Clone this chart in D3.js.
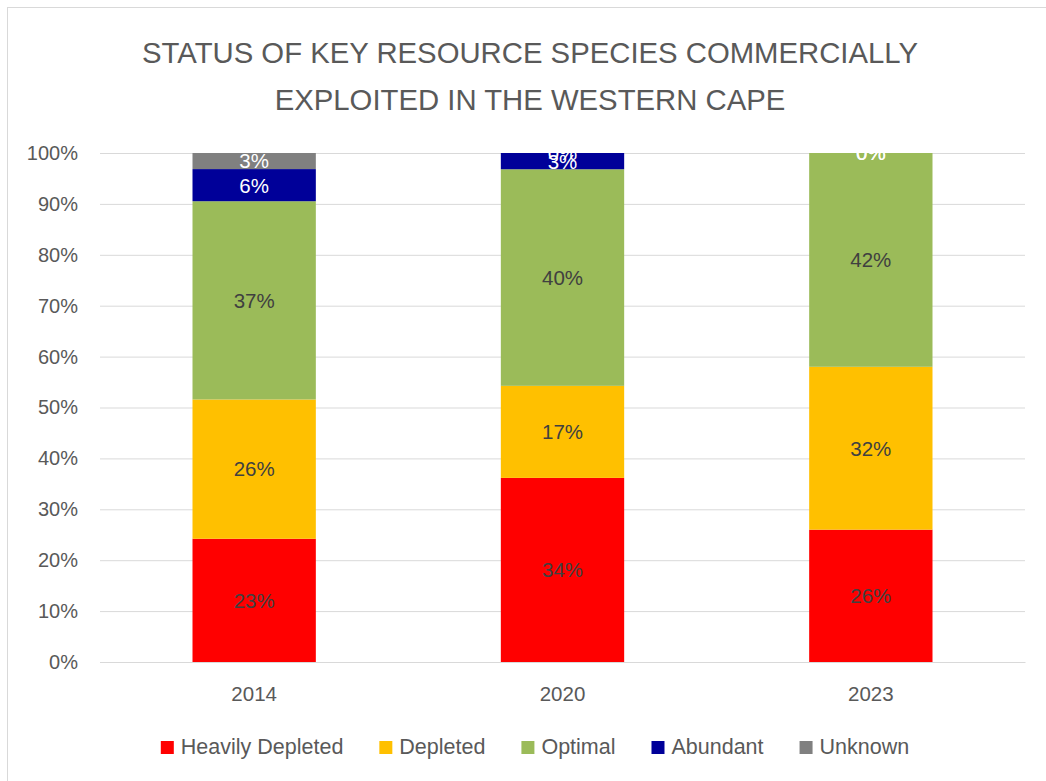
<!DOCTYPE html>
<html>
<head>
<meta charset="utf-8">
<script src="https://cdn.jsdelivr.net/npm/d3@7"></script>
<style>
  html, body { margin: 0; padding: 0; background: #fff; }
  svg { display: block; font-family: "Liberation Sans", Arial, sans-serif; }
</style>
</head>
<body>
<svg id="chart" width="1046" height="781"></svg>
<script>
// Survey years (categories)
const years = ["2014", "2020", "2023"];
// Stock status classes, bottom to top
const statuses = ["Heavily Depleted", "Depleted", "Optimal", "Abundant", "Unknown"];
// Share of species per status class (%), one value per year
const heavilyDepleted = [23, 34, 26];
const depleted = [26, 17, 32];
const optimal = [37, 40, 42];
const abundant = [6, 3, 0];
const unknown = [3, 0, 0];
// Value-axis tick labels
const yTicks = [0, 0.1, 0.2, 0.3, 0.4, 0.5, 0.6, 0.7, 0.8, 0.9, 1.0];

const colors = {
  "Heavily Depleted": "#FF0000",
  "Depleted": "#FFC000",
  "Optimal": "#9BBB59",
  "Abundant": "#000099",
  "Unknown": "#808080"
};
const labelColors = {
  "Heavily Depleted": "#404040",
  "Depleted": "#404040",
  "Optimal": "#404040",
  "Abundant": "#FFFFFF",
  "Unknown": "#FFFFFF"
};

const seriesValues = [heavilyDepleted, depleted, optimal, abundant, unknown];
const rows = years.map((y, i) => {
  const r = { year: y };
  statuses.forEach((s, k) => { r[s] = seriesValues[k][i]; });
  return r;
});

const svg = d3.select("#chart");
const W = 1046, H = 781;

// chart frame
svg.append("rect")
  .attr("x", 7.5).attr("y", 7.5)
  .attr("width", W).attr("height", H)
  .attr("fill", "#fff").attr("stroke", "#d9d9d9").attr("stroke-width", 1);

const plot = { left: 100, right: 1025, top: 153, bottom: 662 };

const x = d3.scaleBand().domain(years).range([plot.left, plot.right]).paddingInner(0.6).paddingOuter(0.3);
const y = d3.scaleLinear().domain([0, 1]).range([plot.bottom, plot.top]);

// title
const title = svg.append("text")
  .attr("text-anchor", "middle")
  .attr("fill", "#595959")
  .attr("font-size", 29.3);
title.append("tspan").attr("x", 530).attr("y", 63).text("STATUS OF KEY RESOURCE SPECIES COMMERCIALLY");
title.append("tspan").attr("x", 530).attr("y", 110).text("EXPLOITED IN THE WESTERN CAPE");

// gridlines + value axis
const yAxis = d3.axisLeft(y)
  .tickValues(yTicks)
  .tickFormat(d3.format(".0%"))
  .tickSize(-(plot.right - plot.left))
  .tickPadding(22);
const gy = svg.append("g").attr("transform", `translate(${plot.left},0)`).call(yAxis);
gy.select(".domain").remove();
gy.selectAll(".tick line").attr("stroke", "#d9d9d9").attr("stroke-width", 1);
gy.selectAll(".tick text")
  .attr("fill", "#595959")
  .attr("font-size", 20)
  .attr("font-family", "Liberation Sans, Arial, sans-serif");

// stacked 100% bars
const stack = d3.stack().keys(statuses).offset(d3.stackOffsetExpand);
const layers = stack(rows);

const gBars = svg.append("g");
layers.forEach(layer => {
  const key = layer.key;
  gBars.selectAll(null)
    .data(layer)
    .join("rect")
    .attr("x", d => x(d.data.year))
    .attr("width", x.bandwidth())
    .attr("y", d => y(d[1]))
    .attr("height", d => y(d[0]) - y(d[1]))
    .attr("fill", colors[key]);
});

// data labels at segment centres
layers.forEach(layer => {
  const key = layer.key;
  gBars.selectAll(null)
    .data(layer)
    .join("text")
    .attr("x", d => x(d.data.year) + x.bandwidth() / 2)
    .attr("y", d => y((d[0] + d[1]) / 2))
    .attr("dy", "0.36em")
    .attr("text-anchor", "middle")
    .attr("font-size", 20.5)
    .attr("fill", labelColors[key])
    .text(d => d.data[key] + "%");
});

// category axis
const xAxis = d3.axisBottom(x).tickSize(0).tickPadding(24);
const gx = svg.append("g").attr("transform", `translate(0,${plot.bottom})`).call(xAxis);
gx.select(".domain").attr("stroke", "#d9d9d9");
gx.selectAll(".tick text")
  .attr("fill", "#595959")
  .attr("font-size", 20.5)
  .attr("font-family", "Liberation Sans, Arial, sans-serif");

// legend
const legend = svg.append("g");
const sq = 13, gapText = 7, gapItem = 36;
let cx = 0;
statuses.forEach(s => {
  const g = legend.append("g");
  g.append("rect").attr("width", sq).attr("height", sq).attr("y", -sq).attr("fill", colors[s]);
  const t = g.append("text").attr("x", sq + gapText).attr("y", 0).attr("font-size", 21.5)
    .attr("fill", "#595959").text(s);
  const w = sq + gapText + t.node().getComputedTextLength();
  g.attr("transform", `translate(${cx},0)`);
  cx += w + gapItem;
});
const totalW = cx - gapItem;
legend.attr("transform", `translate(${535 - totalW / 2},754)`);
</script>
</body>
</html>
